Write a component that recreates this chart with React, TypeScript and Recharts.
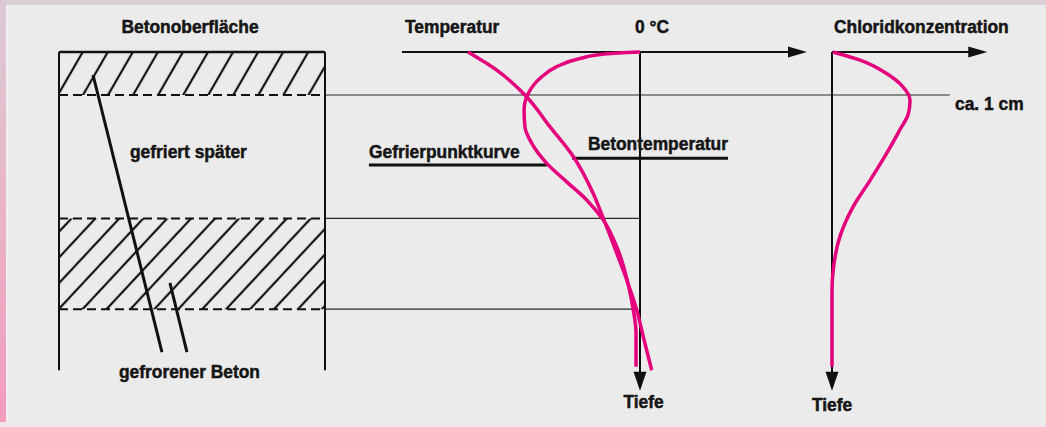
import React from "react";
import {
  ComposedChart,
  Line,
  XAxis,
  YAxis,
  ReferenceLine,
  ReferenceArea,
  ReferenceDot,
} from "recharts";

// depth below the concrete surface (cm)
const layerBounds = [0, 1.0, 3.87, 5.98];
const frozenBands: [number, number][] = [
  [0, 1.0],
  [3.87, 5.98],
];
const boxBottomDepth = 7.4;
const depthAxisEnd = 7.88;

// Betontemperatur (°C) over depth
const betonTempDepth = [0, 0.42, 1.0, 1.74, 2.43, 3.29, 3.87, 4.68, 5.3, 6.0, 6.62, 7.4];
const betonTempValue = [-10, -8.33, -6.69, -5.23, -3.88, -2.72, -2.13, -1.35, -0.77, -0.19, 0.19, 0.68];

// Gefrierpunkt (°C) over depth
const freezeDepth = [0, 0.04, 0.15, 0.34, 0.61, 0.96, 1.35, 1.74, 2.12, 2.59, 3.02, 3.44, 3.91, 4.6, 5.38, 6.0, 6.53, 7.32];
const freezeValue = [0, -1.94, -3.49, -4.84, -5.81, -6.49, -6.74, -6.69, -6.3, -5.42, -4.26, -3.1, -2.13, -1.28, -0.7, -0.39, -0.23, -0.23];

// Chloridkonzentration (relative) over depth
const chlorideDepth = [0, 0.19, 0.5, 0.81, 1.12, 1.43, 1.81, 2.36, 2.98, 3.6, 4.3, 5.0, 5.53, 6.4, 7.32];
const chlorideValue = [0.01, 0.36, 0.7, 0.91, 1.0, 0.98, 0.87, 0.7, 0.49, 0.27, 0.1, 0.02, 0, 0, 0];

const betonTempData = betonTempDepth.map((d, i) => ({ t: betonTempValue[i], d }));
const freezeData = freezeDepth.map((d, i) => ({ t: freezeValue[i], d }));
const chlorideData = chlorideDepth.map((d, i) => ({ c: chlorideValue[i], d }));

// layout of the three panels on the page
const W = 1046;
const H = 427;
const TOP_PX = 52;
const PX_PER_CM = 43;
const DEPTH_DOMAIN: [number, number] = [-0.5, 8];
const BOX = { zero: 59, perUnit: 266 };
const TEMP = { zero: 640, perUnit: 17.2 };
const CL = { zero: 832, perUnit: 78 };
const domainOf = (s: { zero: number; perUnit: number }): [number, number] => [
  -s.zero / s.perUnit,
  (W - s.zero) / s.perUnit,
];
const toBox = (s: { zero: number; perUnit: number }, v: number) =>
  (s.zero + v * s.perUnit - BOX.zero) / BOX.perUnit;

const TEMP_AXIS_START = -13.84;
const TEMP_AXIS_TIP = 9.71;
const CL_AXIS_TIP = 1.99;
const guideEnds = [toBox(CL, 1.51), toBox(TEMP, 0), toBox(TEMP, -0.4)];
const hatchStyles = [
  { id: "hatchTop", gap: 21.7, angle: 30 },
  { id: "hatchLow", gap: 17.5, angle: 43 },
];

const PINK = "#e4007c";
const INK = "#111";

const arrowRight = (p: any) => (
  <path d={`M${p.cx} ${p.cy} L${p.cx - 19} ${p.cy - 5.5} L${p.cx - 19} ${p.cy + 5.5} Z`} fill={INK} />
);
const arrowDown = (p: any) => (
  <path d={`M${p.cx} ${p.cy} L${p.cx - 6.5} ${p.cy - 19} L${p.cx + 6.5} ${p.cy - 19} Z`} fill={INK} />
);

const labels = [
  { text: "Betonoberfläche", x: 190, y: 33, anchor: "middle" },
  { text: "Temperatur", x: 405, y: 33, anchor: "start" },
  { text: "0 °C", x: 635, y: 33, anchor: "start" },
  { text: "Chloridkonzentration", x: 834, y: 33, anchor: "start" },
  { text: "ca. 1 cm", x: 955, y: 110, anchor: "start" },
  { text: "Betontemperatur", x: 588, y: 150, anchor: "start" },
  { text: "Gefrierpunktkurve", x: 369, y: 158, anchor: "start" },
  { text: "gefriert später", x: 130, y: 158, anchor: "start" },
  { text: "gefrorener Beton", x: 119, y: 378, anchor: "start" },
  { text: "Tiefe", x: 643.5, y: 408, anchor: "middle" },
  { text: "Tiefe", x: 832, y: 411, anchor: "middle" },
];

export default function App() {
  const top = TOP_PX + DEPTH_DOMAIN[0] * PX_PER_CM;
  const bottom = H - TOP_PX - DEPTH_DOMAIN[1] * PX_PER_CM;
  return (
    <div
      style={{
        position: "fixed",
        left: 0,
        top: 0,
        width: W,
        height: H,
        background: "#ebebeb",
        overflow: "hidden",
      }}
    >
      <div style={{ position: "absolute", left: 0, top: 0, width: W, height: 5, background: "#d9d0d7" }} />
      <div
        style={{
          position: "absolute",
          left: 0,
          top: 0,
          width: 6,
          height: H,
          background: "linear-gradient(#dccbd5, #e9b3c8 50%, #f29bbd)",
        }}
      />
      <div style={{ position: "absolute", left: 6, top: 5, width: 2, height: H, background: "#f1eff0" }} />
      <div style={{ position: "absolute", left: 0, top: 422, width: W, height: 5, background: "#efe6ea" }} />

      <div style={{ position: "absolute", left: 0, top: 0 }}>
        <ComposedChart width={W} height={H} margin={{ top, right: 0, bottom, left: 0 }}>
          <defs>
            {hatchStyles.map((h) => (
              <pattern
                key={h.id}
                id={h.id}
                patternUnits="userSpaceOnUse"
                width={h.gap}
                height="10"
                patternTransform={`rotate(${h.angle})`}
              >
                <line x1={h.gap / 2} y1="0" x2={h.gap / 2} y2="10" stroke={INK} strokeWidth="2.2" />
              </pattern>
            ))}
          </defs>
          <XAxis xAxisId="box" type="number" dataKey="x" domain={domainOf(BOX)} allowDataOverflow hide />
          <XAxis xAxisId="temp" type="number" dataKey="t" domain={domainOf(TEMP)} allowDataOverflow hide />
          <XAxis xAxisId="cl" type="number" dataKey="c" domain={domainOf(CL)} allowDataOverflow hide />
          <YAxis type="number" dataKey="d" domain={DEPTH_DOMAIN} reversed allowDataOverflow hide />

          {frozenBands.map(([a, b], i) => (
            <ReferenceArea
              key={`band${i}`}
              xAxisId="box"
              x1={0}
              x2={1}
              y1={a}
              y2={b}
              fill={`url(#${hatchStyles[i].id})`}
              fillOpacity={1}
              stroke="none"
            />
          ))}

          {layerBounds.slice(1).map((d, i) => (
            <ReferenceLine
              key={`guide${i}`}
              xAxisId="box"
              segment={[{ x: 1, y: d }, { x: guideEnds[i], y: d }]}
              stroke="#2a2a2a"
              strokeWidth={1.2}
            />
          ))}
          {layerBounds.slice(1).map((d, i) => (
            <ReferenceLine
              key={`dash${i}`}
              xAxisId="box"
              segment={[{ x: 0, y: d }, { x: 1, y: d }]}
              stroke={INK}
              strokeWidth={2}
              strokeDasharray="9 5"
            />
          ))}
          <ReferenceLine xAxisId="box" segment={[{ x: 0, y: 0 }, { x: 1, y: 0 }]} stroke={INK} strokeWidth={2.6} />
          <ReferenceLine xAxisId="box" segment={[{ x: 0, y: 0 }, { x: 0, y: boxBottomDepth }]} stroke={INK} strokeWidth={2} />
          <ReferenceLine xAxisId="box" segment={[{ x: 1, y: 0 }, { x: 1, y: boxBottomDepth }]} stroke={INK} strokeWidth={2} />

          {/* pointers to the frozen layers */}
          <ReferenceLine xAxisId="box" segment={[{ x: 0.128, y: 0.535 }, { x: 0.387, y: 6.98 }]} stroke={INK} strokeWidth={3} />
          <ReferenceLine xAxisId="box" segment={[{ x: 0.417, y: 5.37 }, { x: 0.481, y: 6.98 }]} stroke={INK} strokeWidth={3} />

          {/* temperature axes */}
          <ReferenceLine xAxisId="temp" segment={[{ x: TEMP_AXIS_START, y: 0 }, { x: TEMP_AXIS_TIP - 1, y: 0 }]} stroke={INK} strokeWidth={2} />
          <ReferenceLine xAxisId="temp" segment={[{ x: 0, y: 0 }, { x: 0, y: depthAxisEnd - 0.3 }]} stroke={INK} strokeWidth={2} />
          <ReferenceDot xAxisId="temp" x={TEMP_AXIS_TIP} y={0} r={0} shape={arrowRight} />
          <ReferenceDot xAxisId="temp" x={0} y={depthAxisEnd} r={0} shape={arrowDown} />

          {/* label leaders */}
          <ReferenceLine xAxisId="temp" segment={[{ x: -15.76, y: 2.63 }, { x: -5.41, y: 2.63 }]} stroke={INK} strokeWidth={3} />
          <ReferenceLine xAxisId="temp" segment={[{ x: -3.95, y: 2.47 }, { x: 5.12, y: 2.47 }]} stroke={INK} strokeWidth={3} />

          {/* chloride axes */}
          <ReferenceLine xAxisId="cl" segment={[{ x: 0, y: 0 }, { x: CL_AXIS_TIP - 0.1, y: 0 }]} stroke={INK} strokeWidth={2} />
          <ReferenceLine xAxisId="cl" segment={[{ x: 0, y: 0 }, { x: 0, y: depthAxisEnd - 0.3 }]} stroke={INK} strokeWidth={2} />
          <ReferenceDot xAxisId="cl" x={CL_AXIS_TIP} y={0} r={0} shape={arrowRight} />
          <ReferenceDot xAxisId="cl" x={0} y={depthAxisEnd} r={0} shape={arrowDown} />

          <Line
            xAxisId="temp"
            data={betonTempData}
            dataKey="d"
            type="monotoneY"
            stroke={PINK}
            strokeWidth={3.5}
            dot={false}
            activeDot={false}
            isAnimationActive={false}
          />
          <Line
            xAxisId="temp"
            data={freezeData}
            dataKey="d"
            type="monotoneY"
            stroke={PINK}
            strokeWidth={3.5}
            dot={false}
            activeDot={false}
            isAnimationActive={false}
          />
          <Line
            xAxisId="cl"
            data={chlorideData}
            dataKey="d"
            type="monotoneY"
            stroke={PINK}
            strokeWidth={3.5}
            dot={false}
            activeDot={false}
            isAnimationActive={false}
          />
        </ComposedChart>
      </div>

      <svg width={W} height={H} style={{ position: "absolute", left: 0, top: 0, pointerEvents: "none" }}>
        {labels.map((l, i) => (
          <text
            key={i}
            transform={`translate(${l.x},${l.y}) scale(0.94,1)`}
            textAnchor={l.anchor as any}
            fontFamily="'Liberation Sans', Arial, sans-serif"
            fontWeight="bold"
            fontSize={18.5}
            fill="#151515"
            stroke="#151515"
            strokeWidth={0.5}
          >
            {l.text}
          </text>
        ))}
      </svg>
    </div>
  );
}
